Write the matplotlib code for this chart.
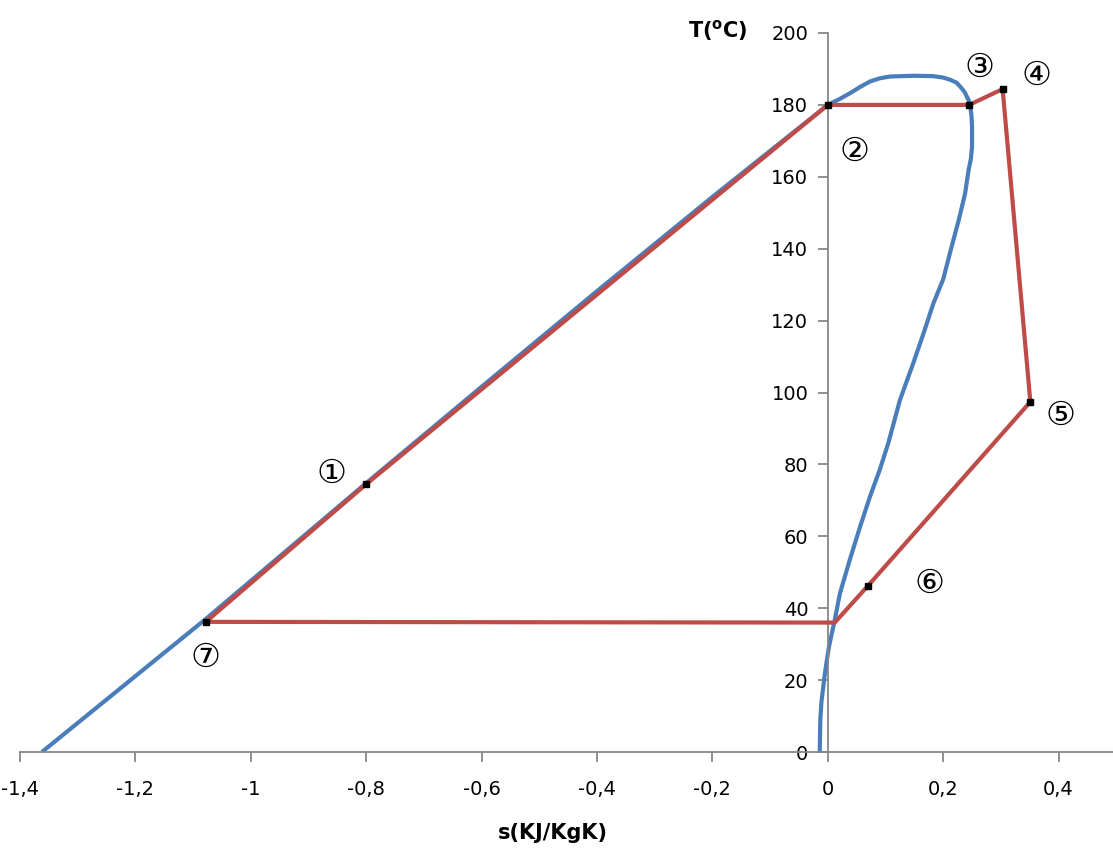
import matplotlib
matplotlib.use("Agg")
import matplotlib.pyplot as plt
from matplotlib.ticker import FuncFormatter, MultipleLocator

# Saturation curve (blue): liquid line, dome, vapour line
sat_s = [-1.362, -1.078, -0.8, -0.6, -0.4, -0.2, 0.0,
         0.02, 0.038, 0.056, 0.073, 0.09, 0.108, 0.15, 0.183, 0.2, 0.212,
         0.223, 0.23, 0.237, 0.241, 0.245, 0.247, 0.249,
         0.25, 0.25, 0.248, 0.244, 0.238, 0.227, 0.213, 0.2, 0.183, 0.166,
         0.148, 0.125, 0.105, 0.09, 0.073, 0.056, 0.038, 0.021, 0.012,
         0.002, -0.005, -0.011, -0.013, -0.014]
sat_T = [0.0, 37.0, 74.8, 101.6, 128.2, 154.4, 180.0,
         181.6, 183.2, 185.0, 186.5, 187.4, 187.9, 188.1, 188.0, 187.6, 187.0,
         186.2, 185.0, 183.6, 182.3, 181.0, 179.5, 177.0,
         174.0, 168.4, 165.0, 161.9, 155.4, 148.0, 139.6, 131.5, 124.8, 116.5,
         108.1, 97.9, 86.0, 78.5, 71.0, 62.7, 53.4, 44.1, 36.7,
         29.3, 21.9, 14.0, 8.9, 0.0]

# Cycle (red): 7 -> 1 -> 2 -> 3 -> 4 -> 5 -> 6 -> condenser end -> 7
cyc_s = [-1.078, -0.8, 0.0, 0.245, 0.303, 0.351, 0.070, 0.012, -1.078]
cyc_T = [36.2, 74.5, 180.0, 180.0, 184.4, 97.4, 46.3, 36.0, 36.2]
marked = [0, 1, 2, 3, 4, 5, 6]

# State labels
lbl_text = ["①", "②", "③", "④", "⑤", "⑥", "⑦"]
lbl_s = [-0.861, 0.047, 0.263, 0.362, 0.403, 0.176, -1.078]
lbl_T = [77.3, 166.9, 190.3, 188.0, 93.5, 46.7, 26.1]

x_ticks = [-1.4, -1.2, -1.0, -0.8, -0.6, -0.4, -0.2, 0.0, 0.2, 0.4]
W, H = 1113, 857
PXU = 577.0
fig = plt.figure(figsize=(W / 100, H / 100), dpi=100)
ax = fig.add_axes([20 / W, (H - 752) / H, (W - 20) / W, (752 - 33) / H])
ax.set_xlim(-1.4, -1.4 + (W - 20) / PXU)
ax.set_ylim(0, 200)

blue = "#4A7EBB"
red = "#BE4B48"
axcol = "#868686"

ax.plot(sat_s, sat_T, color=blue, lw=3.0, solid_capstyle="butt",
        solid_joinstyle="round", zorder=2)
ax.plot(cyc_s, cyc_T, color=red, lw=3.0, zorder=3)
ax.plot([cyc_s[i] for i in marked], [cyc_T[i] for i in marked], ls="none",
        marker="s", ms=5, color="black", zorder=4)

for t, s, T in zip(lbl_text, lbl_s, lbl_T):
    ax.text(s, T, t, ha="center", va="center", fontsize=24,
            family=["DejaVu Serif", "DejaVu Sans", "Noto Sans CJK JP"], zorder=5)

for side in ["top", "right"]:
    ax.spines[side].set_visible(False)
ax.spines["left"].set_position(("data", 0))
ax.spines["bottom"].set_position(("data", 0))
for side in ["left", "bottom"]:
    ax.spines[side].set_color(axcol)
    ax.spines[side].set_linewidth(1.3)

ax.set_xticks(x_ticks)
ax.yaxis.set_major_locator(MultipleLocator(20))
fmt = FuncFormatter(lambda v, p: ("%g" % round(v, 2)).replace(".", ","))
ax.xaxis.set_major_formatter(fmt)
ax.tick_params(axis="x", direction="out", length=7, width=1.3, color=axcol,
               pad=13, labelsize=14)
ax.tick_params(axis="y", direction="out", length=7, width=1.3, color=axcol,
               pad=7, labelsize=14)

fig.text(718 / W, 1 - 31 / H, r"T($^{\mathbf{o}}$C)", ha="center", va="center",
         fontsize=15, fontweight="bold")
fig.text(553 / W, 1 - 833 / H, "s(KJ/KgK)", ha="center", va="center",
         fontsize=15, fontweight="bold")

fig.savefig("out.png", dpi=100, facecolor="white")
